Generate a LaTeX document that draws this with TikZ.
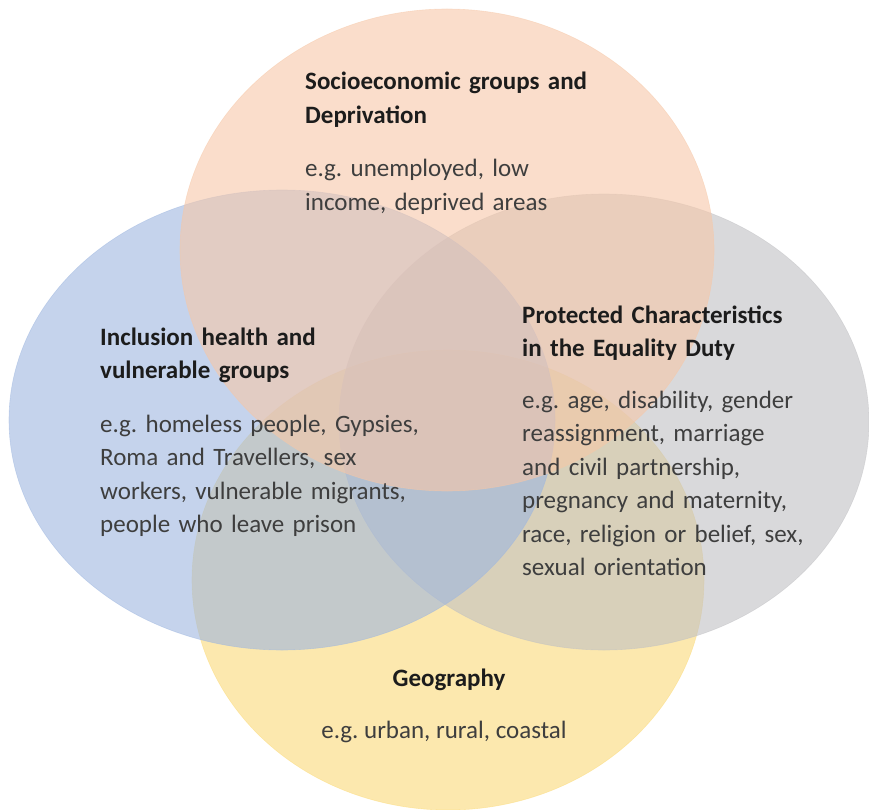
\documentclass[tikz,border=0pt]{standalone}
\usepackage{fontspec}
\setmainfont{Carlito}
\usetikzlibrary{positioning}
\frenchspacing

\definecolor{socio}{RGB}{246,199,168}
\definecolor{incl}{RGB}{158,182,223}
\definecolor{prot}{RGB}{192,192,195}
\definecolor{geo}{RGB}{250,217,120}
\definecolor{headtxt}{RGB}{28,28,28}
\definecolor{bodytxt}{RGB}{62,62,62}

\tikzset{
    venn/.style={fill=#1, fill opacity=0.6, draw=#1, draw opacity=0.5, line width=0.6pt},
    setlbl/.style={inner sep=0pt, text width=370pt, align=left, anchor=base west,
        font=\fontsize{25}{33.5}\selectfont, text=bodytxt},
    geolbl/.style={inner sep=0pt, anchor=base, font=\fontsize{25}{33.5}\selectfont, text=bodytxt}
}
\newcommand{\sethead}[1]{{\bfseries\color{headtxt}#1}}

\begin{document}
\begin{tikzpicture}[x=1pt, y=-1pt]
    \useasboundingbox (0,0) rectangle (869,810);
        % the four sets
        \path[venn=geo] (448,580) ellipse [x radius=256pt, y radius=230pt];
        \path[venn=prot] (604,422) ellipse [x radius=265pt, y radius=228pt];
        \path[venn=incl] (282,420) ellipse [x radius=273pt, y radius=230pt];
        \path[venn=socio] (447,250) ellipse [x radius=267pt, y radius=241pt];

        % labels
        \node[setlbl] (socio) at (305,90)
            {\sethead{Socioeconomic groups and\\Deprivation}\\[20pt]e.g. unemployed, low\\income, deprived areas};
        \node[setlbl] (incl) at (100,345)
            {\sethead{Inclusion health and\\vulnerable groups}\\[20pt]e.g. homeless people, Gypsies,\\Roma and Travellers, sex\\workers, vulnerable migrants,\\people who leave prison};
        \node[setlbl] (prot) at (522,323)
            {\sethead{Protected Characteristics\\in the Equality Duty}\\[18pt]e.g. age, disability, gender\\reassignment, marriage\\and civil partnership,\\pregnancy and maternity,\\race, religion or belief, sex,\\sexual orientation};
        \node[geolbl] (geohead) at (449,686) {\sethead{Geography}};
        \node[geolbl] (geobody) at (444,738) {e.g. urban, rural, coastal};
\end{tikzpicture}
\end{document}
